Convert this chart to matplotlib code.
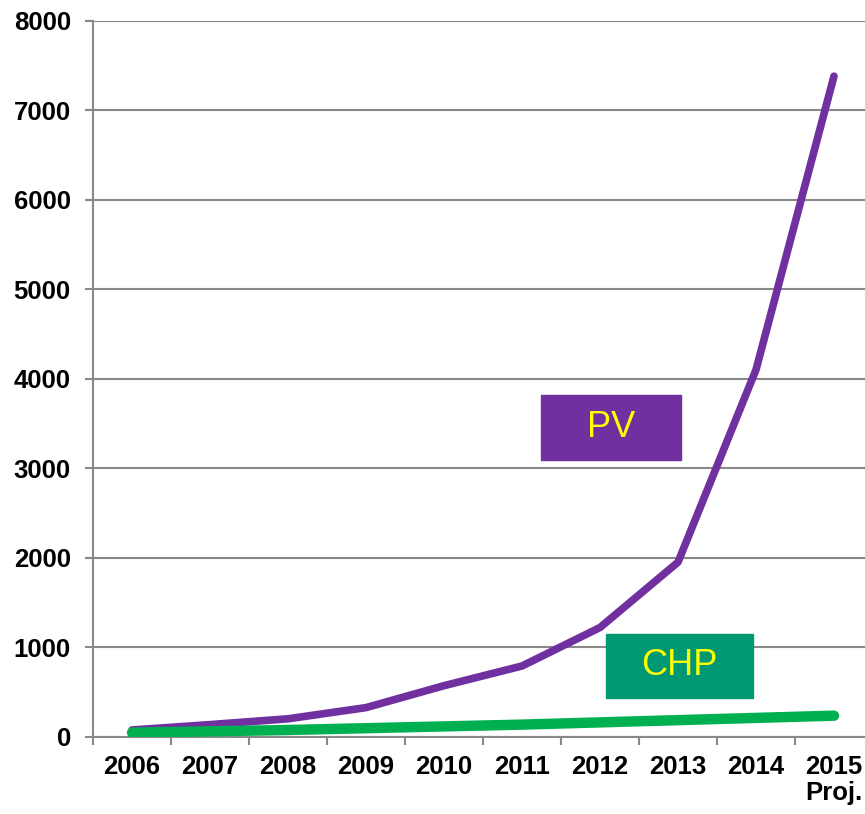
import numpy as np
import matplotlib.pyplot as plt
from matplotlib.patches import Rectangle

plt.rcParams['font.family'] = ['Liberation Sans', 'DejaVu Sans']

# data
years = ['2006', '2007', '2008', '2009', '2010', '2011', '2012', '2013', '2014', '2015\nProj.']
pv = [75, 135, 200, 325, 570, 790, 1220, 1950, 4100, 7380]
chp = [45, 60, 75, 95, 115, 135, 160, 185, 210, 235]

pv_color = '#7030A0'
chp_color = '#00B050'
chp_box = '#009973'
grid_color = '#898989'

fig = plt.figure(figsize=(8.65, 8.14), dpi=100)
ax = fig.add_axes([93/865, 1 - 736.7/814, 780/865, 716/814])

x = np.arange(len(years))
ax.plot(x, pv, color=pv_color, lw=5.5, solid_capstyle='round', zorder=3)
ax.plot(x, chp, color=chp_color, lw=7.5, solid_capstyle='round', zorder=4)

ax.set_xlim(-0.5, len(years) - 0.5)
ax.set_ylim(0, 8000)
ax.set_yticks(np.arange(0, 8001, 1000))
ax.set_xticks(x)
ax.set_xticklabels(years, multialignment='right', linespacing=1.1)
ax.set_xticks(np.arange(-0.5, len(years), 1), minor=True)
ax.tick_params(axis='x', which='major', length=0, pad=13)
ax.tick_params(axis='x', which='minor', length=6, width=1.5, color=grid_color, direction='out')
ax.tick_params(axis='y', length=6, width=1.5, color=grid_color, pad=10)
for lab in ax.get_xticklabels() + ax.get_yticklabels():
    lab.set_fontsize(18.5)
    lab.set_fontweight('bold')

ax.grid(axis='y', color=grid_color, lw=1.5)
ax.set_axisbelow(True)
for s in ['top', 'right']:
    ax.spines[s].set_visible(False)
for s in ['left', 'bottom']:
    ax.spines[s].set_color(grid_color)
    ax.spines[s].set_linewidth(1.5)

# series name boxes
ax.add_patch(Rectangle((5.24, 3090), 1.80, 727, color=pv_color, zorder=5))
ax.text(6.14, 3455, 'PV', color='#FFFF00', fontsize=26, ha='center', va='center', zorder=6)
ax.add_patch(Rectangle((6.08, 435), 1.88, 715, color=chp_box, zorder=5))
ax.text(7.02, 790, 'CHP', color='#FFFF00', fontsize=26, ha='center', va='center', zorder=6)

fig.savefig('out.png', dpi=100)
